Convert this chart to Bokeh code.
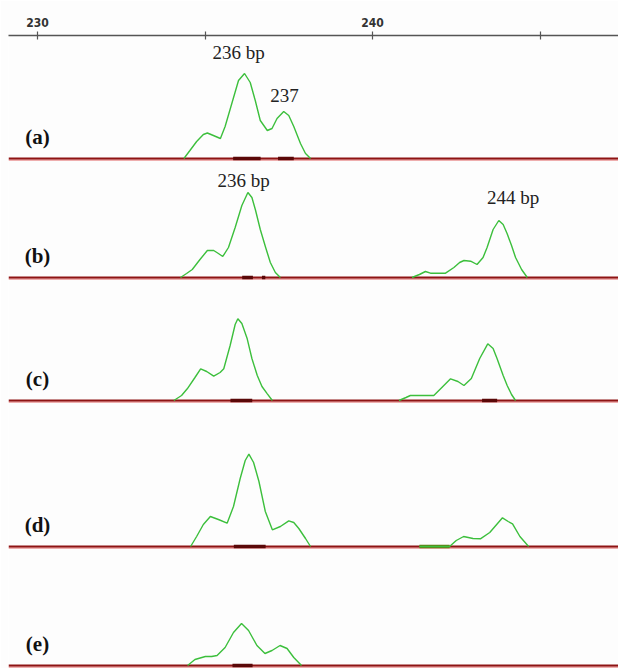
from bokeh.plotting import figure
from bokeh.models import Range1d, LinearAxis, FixedTicker, Label
from bokeh.embed import file_html
from bokeh.resources import INLINE

# ---- data (fragment size in bp, relative fluorescence height) ----
a_bp = [234.37, 234.55, 234.75, 234.95, 235.07, 235.25, 235.46, 235.6, 235.8, 236.0, 236.18, 236.35,
        236.5, 236.65, 236.86, 237.0, 237.15, 237.35, 237.5, 237.65, 237.85, 238.0, 238.15]
a_h = [0, 8, 17, 24, 25.5, 23, 20, 32, 55, 78, 85, 76, 58, 38, 28, 30, 40, 47, 43, 32, 15, 5, 0]

b_bp = [234.27, 234.45, 234.62, 234.85, 235.07, 235.26, 235.4, 235.53, 235.7, 235.9, 236.1, 236.28,
        236.4, 236.51, 236.65, 236.81, 236.95, 237.1, 237.25]
b_h = [0, 4, 8, 18, 27, 27, 24, 21, 30, 50, 72, 85, 80, 67, 48, 30, 15, 5, 0]
b2_bp = [241.18, 241.4, 241.58, 241.73, 242.0, 242.18, 242.43, 242.6, 242.73, 242.93, 243.12, 243.3,
         243.42, 243.6, 243.77, 243.9, 244.02, 244.15, 244.27, 244.45, 244.62]
b2_h = [0, 3, 6, 4.3, 4.3, 4.3, 10, 15, 17, 16.3, 13, 20, 30, 48, 57, 53, 43.7, 32, 20, 8, 0]

c_bp = [234.07, 234.3, 234.47, 234.7, 234.87, 235.05, 235.26, 235.45, 235.56, 235.75, 235.9, 235.98,
        236.1, 236.26, 236.4, 236.56, 236.7, 236.86, 237.01]
c_h = [0, 5, 11.7, 23, 31.7, 29, 24.3, 28, 31.7, 55, 76, 81.7, 77, 61.7, 42, 25, 14, 6.7, 0]
c2_bp = [240.79, 241.0, 241.13, 241.5, 241.83, 242.1, 242.33, 242.55, 242.73, 242.95, 243.2, 243.44,
         243.6, 243.72, 243.9, 244.02, 244.15, 244.27]
c2_h = [0, 3, 5, 5, 5, 14, 21.7, 19, 15, 22, 42, 56.7, 52, 41.7, 25, 15, 6, 0]

d_bp = [234.57, 234.75, 234.95, 235.16, 235.4, 235.66, 235.85, 236.05, 236.2, 236.31, 236.45, 236.61,
        236.8, 237.01, 237.25, 237.5, 237.65, 237.8, 238.0, 238.15]
d_h = [0, 10, 22, 30, 27, 23.3, 40, 68, 86, 92.3, 84, 65, 35, 16.7, 20, 25.7, 24, 18, 8, 0]
d2_bp = [241.40, 242.30, 242.5, 242.72, 243.0, 243.22, 243.5, 243.88, 244.05, 244.18, 244.4, 244.66]
d2_h = [0, 0, 6, 10, 8, 7.7, 14, 28.7, 25, 22.7, 10, 0]

e_bp = [234.48, 234.7, 235.01, 235.2, 235.36, 235.6, 235.85, 236.09, 236.3, 236.55, 236.79, 237.0,
        237.24, 237.45, 237.65, 237.88]
e_h = [0, 6, 9, 9, 10, 18, 33, 42, 35, 20, 12, 15, 20, 17, 8, 0]

# bins (allele calls) drawn on the baseline
a_bins = [(235.84, 236.66), (237.18, 237.65)]
b_bins = [(236.11, 236.43), (236.70, 236.80)]
c_bins = [(235.76, 236.41), (243.27, 243.72)]
d_bins = [(235.86, 236.81)]
d_green = [(241.40, 242.30)]
e_bins = [(235.82, 236.42)]

panel_names = ["(a)", "(b)", "(c)", "(d)", "(e)"]
tick_values = [230, 235, 240, 245]
tick_labels = {230: "230", 235: "", 240: "240", 245: ""}

peak_labels = [("236 bp", 236.0, 0), ("237", 237.37, 0), ("236 bp", 236.15, 1), ("244 bp", 244.2, 1)]

# ---- layout ----
W, H = 618, 668
TOP = 35
LEFT = 8
X0, X1 = 229.134, 247.343
LABEL_X = 230.0
panel_base = [510, 391, 268, 122, 3]    # baseline of each lane (pixels from bottom of frame)
peak_label_y = [616, 573, 488, 471]

p = figure(width=W, height=H, output_backend="svg", toolbar_location=None,
           x_range=Range1d(X0, X1), y_range=Range1d(0, H - TOP),
           x_axis_location=None, y_axis_location=None,
           min_border_left=LEFT, min_border_right=0, min_border_bottom=0, min_border_top=TOP,
           background_fill_color="#fdfdfd", border_fill_color="#fdfdfd")
p.outline_line_color = None
p.xgrid.visible = False
p.ygrid.visible = False

ax = LinearAxis(ticker=FixedTicker(ticks=tick_values), major_label_overrides=tick_labels)
ax.axis_line_color = "#555555"
ax.axis_line_width = 1.5
ax.major_tick_line_color = "#555555"
ax.major_tick_line_width = 1.2
ax.major_tick_out = 4
ax.major_tick_in = 4
ax.minor_tick_line_color = None
ax.major_label_standoff = 5
ax.major_label_text_font = "Liberation Sans Narrow, DejaVu Sans Condensed, Arial Narrow, sans-serif"
ax.major_label_text_font_style = "bold"
ax.major_label_text_font_size = "12px"
ax.major_label_text_color = "#333333"
p.add_layout(ax, "above")

traces = [
    [(a_bp, a_h)],
    [(b_bp, b_h), (b2_bp, b2_h)],
    [(c_bp, c_h), (c2_bp, c2_h)],
    [(d_bp, d_h), (d2_bp, d2_h)],
    [(e_bp, e_h)],
]
bins = [a_bins, b_bins, c_bins, d_bins, e_bins]

for i, base in enumerate(panel_base):
    # baseline
    p.line([X0, X1], [base - 1.5, base - 1.5], line_color="#e06060", line_width=1.2)
    p.line([X0, X1], [base, base], line_color="#8e1414", line_width=2.2)
    # bins
    for (s, e) in bins[i]:
        p.line([s, e], [base, base], line_color="#5a0808", line_width=3.5)
    if i == 3:
        for (s, e) in d_green:
            p.line([s, e], [base, base], line_color="#5f7f10", line_width=3.5)
    # traces
    for (xs, hs) in traces[i]:
        p.line(xs, [base + h for h in hs], line_color="#3cbf3c", line_width=1.4)
    # lane label
    p.add_layout(Label(x=LABEL_X, y=base + 22, text=panel_names[i],
                       text_font="Liberation Serif", text_font_style="bold", text_font_size="21px",
                       text_align="center", text_baseline="middle", text_color="#111111"))

for (txt, xbp, lane), ly in zip(peak_labels, peak_label_y):
    p.add_layout(Label(x=xbp, y=ly, text=txt, text_font="Liberation Serif", text_font_size="19px",
                       text_align="center", text_baseline="middle", text_color="#222222"))

open("out.html", "w").write(file_html(p, INLINE))
